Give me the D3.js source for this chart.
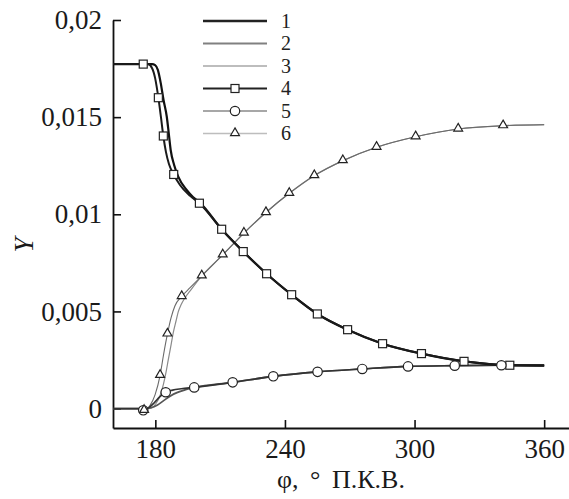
<!DOCTYPE html>
<html>
<head>
<meta charset="utf-8">
<script src="https://cdn.jsdelivr.net/npm/d3@7"></script>
<style>
  html, body { margin: 0; padding: 0; background: #fff; }
  svg { display: block; font-family: "Liberation Serif", "Times New Roman", serif; }
</style>
</head>
<body>
<svg id="chart" width="569" height="499"></svg>
<script>
// ---------- data ----------
const seriesNames = ["1", "2", "3", "4", "5", "6"];
const xTicks = [180, 240, 300, 360];
const yTicks = [0, 0.005, 0.01, 0.015, 0.02];
const yTickLabels = ["0", "0,005", "0,01", "0,015", "0,02"];
const xLabel = "φ, ° П.К.В.";
const yLabel = "Y";

// series 1 (no markers)
const s1Phi = [160.4, 178.5, 179.9, 181.2, 182.5, 183.8, 185.3, 186.2, 187.1, 188.7, 190.6, 194.5, 197.4, 200.7, 210.7, 220.7, 231.5, 243.1, 255.0, 269.0, 285.2, 303.2, 322.9, 344.1, 360];
const s1Y   = [0.01773, 0.01773, 0.01768, 0.01742, 0.01675, 0.01588, 0.01502, 0.01418, 0.01331, 0.01254, 0.01194, 0.01125, 0.01089, 0.01059, 0.00923, 0.00808, 0.00694, 0.00586, 0.00487, 0.00406, 0.00334, 0.00283, 0.00243, 0.00223, 0.00222];
// series 2 (no markers)
const s2Phi = [160.4, 175.0, 178.0, 181.0, 184.0, 187.0, 190.0, 194.0, 198.0, 215.8, 234.6, 255.1, 275.8, 297.0, 318.6, 340.2, 360];
const s2Y   = [0, 0, 0.00004, 0.00018, 0.00042, 0.00065, 0.00082, 0.00097, 0.00108, 0.00135, 0.00166, 0.00189, 0.00204, 0.00217, 0.00221, 0.00223, 0.00221];
// series 3 (no markers)
const s3Phi = [160.4, 176.6, 178.5, 180.3, 182.2, 183.7, 185.0, 186.0, 187.3, 188.3, 189.6, 190.6, 191.9, 193.7, 196.1, 201.5, 211.2, 221.0, 231.2, 242.0, 253.6, 266.8, 282.4, 300.5, 320.2, 341.0, 360];
const s3Y   = [0, 0, 0.00005, 0.00026, 0.00067, 0.00123, 0.00190, 0.00252, 0.00329, 0.00391, 0.00452, 0.00498, 0.00534, 0.00570, 0.00606, 0.00683, 0.00791, 0.00903, 0.01009, 0.01108, 0.01199, 0.01276, 0.01345, 0.01399, 0.01439, 0.01456, 0.01461];
// series 4 (squares)
const s4Phi = [160.4, 176.6, 178.5, 179.9, 181.4, 182.6, 183.7, 184.9, 186.3, 188.5, 191.4, 196.1, 200.4, 210.7, 220.7, 231.5, 243.1, 255.0, 269.0, 285.2, 303.2, 322.9, 344.1, 360];
const s4Y   = [0.01773, 0.01773, 0.01752, 0.01701, 0.01600, 0.01500, 0.01403, 0.01321, 0.01259, 0.01205, 0.01151, 0.01095, 0.01057, 0.00923, 0.00808, 0.00694, 0.00586, 0.00487, 0.00406, 0.00334, 0.00283, 0.00243, 0.00223, 0.00222];
const s4MarkPhi = [174.4, 181.4, 183.7, 188.5, 200.4, 210.7, 220.7, 231.5, 243.1, 255.0, 269.0, 285.2, 303.2, 322.9, 344.1];
const s4MarkY   = [0.01773, 0.01600, 0.01403, 0.01205, 0.01057, 0.00923, 0.00808, 0.00694, 0.00586, 0.00487, 0.00406, 0.00334, 0.00283, 0.00243, 0.00223];
// series 5 (circles)
const s5Phi = [160.4, 172.0, 174.4, 177.0, 179.5, 182.0, 184.8, 188.0, 192.0, 198.0, 215.8, 234.6, 255.1, 275.8, 297.0, 318.6, 340.2, 360];
const s5Y   = [0, 0, -0.00009, 0.00005, 0.00030, 0.00060, 0.00084, 0.00095, 0.00102, 0.00109, 0.00135, 0.00166, 0.00189, 0.00204, 0.00217, 0.00221, 0.00223, 0.00221];
const s5MarkPhi = [174.4, 184.8, 198.0, 215.8, 234.6, 255.1, 275.8, 297.0, 318.6, 340.2];
const s5MarkY   = [-0.00009, 0.00084, 0.00109, 0.00135, 0.00166, 0.00189, 0.00204, 0.00217, 0.00221, 0.00223];
// series 6 (triangles)
const s6Phi = [160.4, 172.9, 174.8, 177.5, 179.9, 182.2, 183.8, 185.6, 187.3, 189.1, 192.2, 196.1, 201.5, 211.2, 221.0, 231.2, 242.0, 253.6, 266.8, 282.4, 300.5, 320.2, 341.0, 360];
const s6Y   = [0, 0, -0.00009, 0.00015, 0.00072, 0.00171, 0.00277, 0.00384, 0.00468, 0.00529, 0.00577, 0.00622, 0.00683, 0.00791, 0.00903, 0.01009, 0.01108, 0.01199, 0.01276, 0.01345, 0.01399, 0.01439, 0.01456, 0.01461];
const s6MarkPhi = [174.8, 182.2, 185.6, 192.2, 201.5, 211.2, 221.0, 231.2, 242.0, 253.6, 266.8, 282.4, 300.5, 320.2, 341.0];
const s6MarkY   = [-0.00009, 0.00171, 0.00384, 0.00577, 0.00683, 0.00791, 0.00903, 0.01009, 0.01108, 0.01199, 0.01276, 0.01345, 0.01399, 0.01439, 0.01456];

// ---------- styles ----------
const lineStyles = [
  { color: "#111", width: 2.2 },
  { color: "#555", width: 1.7 },
  { color: "#8a8a8a", width: 1.2 },
  { color: "#1a1a1a", width: 2.0 },
  { color: "#333", width: 1.7 },
  { color: "#6a6a6a", width: 1.1 }
];
const legendStyles = [
  { color: "#222", width: 2.6, marker: null },
  { color: "#808080", width: 2.0, marker: null },
  { color: "#bdbdbd", width: 2.0, marker: null },
  { color: "#222", width: 2.2, marker: "square" },
  { color: "#8a8a8a", width: 1.6, marker: "circle" },
  { color: "#bdbdbd", width: 1.6, marker: "triangle" }
];

const svg = d3.select("#chart");
const x = d3.scaleLinear().domain([160.4, 371.5]).range([113, 569]);
const y = d3.scaleLinear().domain([-0.001, 0.02]).range([428, 20]);

const zip = (a, b) => a.map((v, i) => [v, b[i]]);
const lines = [
  zip(s1Phi, s1Y), zip(s2Phi, s2Y), zip(s3Phi, s3Y),
  zip(s4Phi, s4Y), zip(s5Phi, s5Y), zip(s6Phi, s6Y)
];
const marks = [
  { type: "square", pts: zip(s4MarkPhi, s4MarkY) },
  { type: "circle", pts: zip(s5MarkPhi, s5MarkY) },
  { type: "triangle", pts: zip(s6MarkPhi, s6MarkY) }
];

// axes
const xAxis = d3.axisBottom(x).tickValues(xTicks).tickSize(-8).tickSizeOuter(0).tickPadding(11).tickFormat(d3.format("d"));
const yAxis = d3.axisLeft(y).tickValues(yTicks).tickSize(-8).tickSizeOuter(0).tickPadding(11)
  .tickFormat((d, i) => yTickLabels[i]);

const gx = svg.append("g").attr("transform", "translate(0,428)").call(xAxis);
const gy = svg.append("g").attr("transform", "translate(113,0)").call(yAxis);
[gx, gy].forEach(g => {
  g.select(".domain").attr("stroke", "#111").attr("stroke-width", 1.8);
  g.selectAll(".tick line").attr("stroke", "#111").attr("stroke-width", 1.6);
  g.selectAll(".tick text").attr("fill", "#1a1a1a").style("font-family", "Liberation Serif").style("font-size", "27px");
});

// lines
const lineGen = d3.line().x(d => x(d[0])).y(d => y(d[1])).curve(d3.curveMonotoneX);
const order = [2, 5, 1, 4, 0, 3];
order.forEach(i => {
  svg.append("path").datum(lines[i])
    .attr("d", lineGen)
    .attr("fill", "none")
    .attr("stroke", lineStyles[i].color)
    .attr("stroke-width", lineStyles[i].width)
    .attr("stroke-linejoin", "round");
});

function drawMarker(g, type, cx, cy) {
  if (type === "square") {
    g.append("rect").attr("x", cx - 4).attr("y", cy - 4).attr("width", 8).attr("height", 8)
      .attr("fill", "#fff").attr("stroke", "#222").attr("stroke-width", 1.2);
  } else if (type === "circle") {
    g.append("circle").attr("cx", cx).attr("cy", cy).attr("r", 4.7)
      .attr("fill", "#fff").attr("stroke", "#222").attr("stroke-width", 1.2);
  } else {
    const s = d3.symbol().type(d3.symbolTriangle).size(34);
    g.append("path").attr("d", s()).attr("transform", `translate(${cx},${cy - 0.5})`)
      .attr("fill", "#fff").attr("stroke", "#222").attr("stroke-width", 1.2);
  }
}

const gm = svg.append("g");
marks.forEach(m => m.pts.forEach(p => drawMarker(gm, m.type, x(p[0]), y(p[1]))));

// legend
const lg = svg.append("g");
seriesNames.forEach((name, i) => {
  const ly = 21 + i * 22.5;
  const st = legendStyles[i];
  lg.append("line").attr("x1", 203).attr("x2", 267).attr("y1", ly).attr("y2", ly)
    .attr("stroke", st.color).attr("stroke-width", st.width);
  if (st.marker) drawMarker(lg, st.marker, 235, ly);
  lg.append("text").attr("x", 281).attr("y", ly + 6.5).attr("fill", "#222")
    .style("font-size", "20px").text(name);
});

// axis labels
svg.append("text").attr("x", 341).attr("y", 488).attr("text-anchor", "middle")
  .attr("fill", "#1a1a1a").style("font-size", "26px").style("word-spacing", "5px").text(xLabel);
svg.append("text").attr("transform", "translate(33,245) rotate(-90)").attr("text-anchor", "middle")
  .attr("fill", "#1a1a1a").style("font-size", "27px").style("font-style", "italic").text(yLabel);
</script>
</body>
</html>
